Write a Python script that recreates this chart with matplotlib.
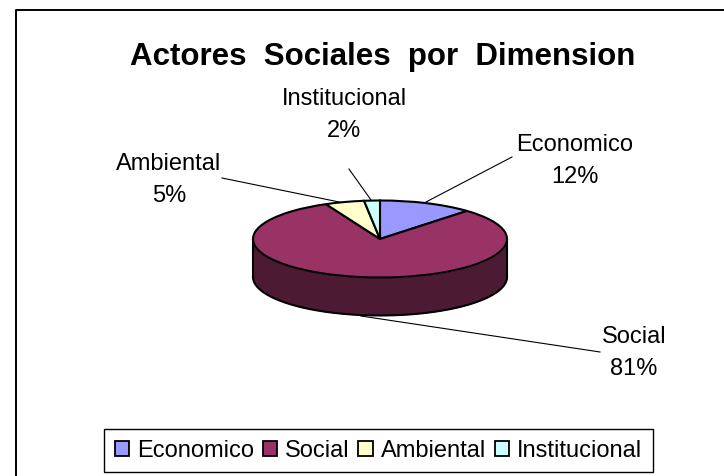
import numpy as np
import matplotlib
matplotlib.use("Agg")
import matplotlib.pyplot as plt
from matplotlib.patches import Patch

labels = ["Economico", "Social", "Ambiental", "Institucional"]
values = [12, 81, 5, 2]
colors = ["#9999FF", "#993366", "#FFFFCC", "#CCFFFF"]
side_color = "#4D1A33"
W, H = 724, 477

plt.rcParams["font.family"] = ["Liberation Sans", "DejaVu Sans"]
fig = plt.figure(figsize=(W / 100, H / 100), dpi=100)

# full figure overlay in pixels, y going down
bg = fig.add_axes([0, 0, 1, 1])
bg.set_xlim(0, W)
bg.set_ylim(H, 0)
bg.axis("off")
bg.plot([15.5, 15.5, W], [H, 10.5, 10.5], color="black", lw=1.4)

# pie axes: one data unit is 127 px wide and 38.5 px high
cx, cy, rx, ry, depth = 380, 240, 127, 38.5, 38
ax = fig.add_axes([(cx - 1.25 * rx) / W, 1 - (cy + 2.5 * ry) / H, 2.5 * rx / W, 5 * ry / H])
t = np.linspace(np.pi, 2 * np.pi, 200)
ax.fill_between(np.cos(t), np.sin(t) - depth / ry, np.sin(t), color=side_color, lw=0, zorder=1)
ax.plot(np.cos(t), np.sin(t) - depth / ry, color="black", lw=1.5, zorder=2)
ax.plot([-1, -1], [0, -depth / ry], color="black", lw=1.5, zorder=2)
ax.plot([1, 1], [0, -depth / ry], color="black", lw=1.5, zorder=2)
ax.pie(values, colors=colors, startangle=90, counterclock=False, radius=1,
       wedgeprops=dict(edgecolor="black", linewidth=1.5, zorder=3))
ax.set_aspect("auto")
ax.set_xlim(-1.25, 1.25)
ax.set_ylim(-2.5, 2.5)
ax.patch.set_alpha(0)

bg.text(383, 57, "Actores  Sociales  por  Dimension", ha="center", va="center",
        fontsize=22.5, fontweight="bold")

# leader lines and data labels
label_pos = [(575, 161), (634, 353), (169, 180), (344, 115)]
line_ends = [((512, 158), (426, 203)), ((600, 353), (361, 317)),
             ((222, 179), (344, 204)), ((349, 170), (371, 201))]
for lab, v, pos, seg in zip(labels, values, label_pos, line_ends):
    bg.text(pos[0], pos[1], f"{lab}\n{v}%", ha="center", va="center", fontsize=17,
            linespacing=1.6)
    bg.plot([seg[0][0], seg[1][0]], [seg[0][1], seg[1][1]], color="black", lw=0.8, zorder=0.5)

handles = [Patch(facecolor=c, edgecolor="black", linewidth=1.3) for c in colors]
leg = bg.legend(handles, labels, ncol=4, loc="center", bbox_to_anchor=(378.5 / W, 1 - 451.5 / H),
                bbox_transform=fig.transFigure, fontsize=17, frameon=True, fancybox=False,
                edgecolor="black", framealpha=1, handlelength=0.6, handleheight=0.6,
                handletextpad=0.35, columnspacing=0.36, borderpad=0.45, borderaxespad=0)
leg.get_frame().set_linewidth(1)

fig.savefig("out.png", dpi=100)
